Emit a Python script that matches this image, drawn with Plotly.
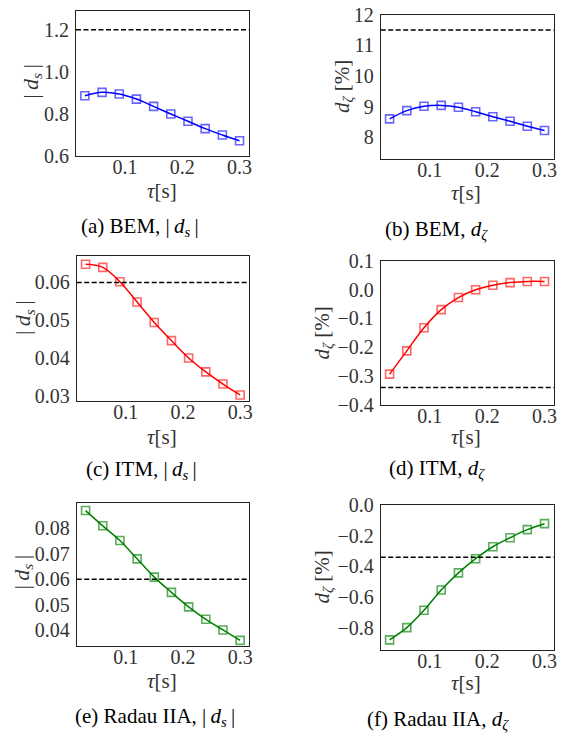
import plotly.graph_objects as go

W, H = 569, 734

tau = [0.03, 0.06, 0.09, 0.12, 0.15, 0.18, 0.21, 0.24, 0.27, 0.30]

bem_ds = [0.886, 0.902, 0.894, 0.870, 0.835, 0.799, 0.764, 0.729, 0.699, 0.671]
bem_dz = [8.60, 8.87, 9.01, 9.04, 8.98, 8.83, 8.67, 8.52, 8.36, 8.22]
itm_ds = [0.0648, 0.0640, 0.0602, 0.0548, 0.0494, 0.0446, 0.0400, 0.0363, 0.0331, 0.0302]
itm_dz = [-0.294, -0.213, -0.133, -0.070, -0.028, -0.001, 0.015, 0.024, 0.028, 0.028]
rad_ds = [0.0870, 0.0810, 0.0752, 0.0680, 0.0608, 0.0548, 0.0491, 0.0442, 0.0400, 0.0359]
rad_dz = [-0.880, -0.800, -0.686, -0.554, -0.442, -0.349, -0.271, -0.212, -0.159, -0.120]

thresholds = [1.2, 11.5, 0.06, -0.34, 0.06, -0.34]

x_ticks = [0.1, 0.2, 0.3]
y_ticks = [
    [0.6, 0.8, 1.0, 1.2],
    [8, 9, 10, 11, 12],
    [0.03, 0.04, 0.05, 0.06],
    [-0.4, -0.3, -0.2, -0.1, 0.0, 0.1],
    [0.04, 0.05, 0.06, 0.07, 0.08],
    [-0.8, -0.6, -0.4, -0.2, 0.0],
]
y_formats = [".1f", "d", ".2f", ".1f", ".2f", ".1f"]
y_ranges = [[0.6, 1.29], [7.28, 12.0], [0.0286, 0.067], [-0.4, 0.1], [0.0338, 0.0901], [-0.946, 0.0]]
x_range = [0.0145, 0.316]

series = [bem_ds, bem_dz, itm_ds, itm_dz, rad_ds, rad_dz]
colors = ["#0000ff", "#0000ff", "#ff0000", "#ff0000", "#008000", "#008000"]
mcolors = ["rgba(0,0,255,0.6)", "rgba(0,0,255,0.6)", "rgba(255,0,0,0.6)", "rgba(255,0,0,0.6)",
           "rgba(0,128,0,0.65)", "rgba(0,128,0,0.65)"]

TS = "\u2009"
ds_label = "|" + TS + "<i>d</i><sub><i>s</i></sub>" + TS + "|"
dz_label = "<i>d</i><sub><i>ζ</i></sub> [%]"
ylabels = [ds_label, dz_label, ds_label, dz_label, ds_label, dz_label]
ylabel_sizes = [22, 21, 22, 21, 22, 21]
xlabel = "<i>τ</i>[s]"
captions = [
    "(a) BEM, " + ds_label,
    "(b) BEM, <i>d</i><sub><i>ζ</i></sub>",
    "(c) ITM, " + ds_label,
    "(d) ITM, <i>d</i><sub><i>ζ</i></sub>",
    "(e) Radau IIA, " + ds_label,
    "(f) Radau IIA, <i>d</i><sub><i>ζ</i></sub>",
]

boxes = [
    (76.0, 248.7, 11.0, 155.7),
    (380.7, 553.7, 14.7, 159.3),
    (76.7, 249.3, 256.0, 401.0),
    (380.7, 553.7, 260.7, 404.7),
    (76.7, 249.3, 502.7, 645.7),
    (380.7, 553.7, 505.3, 650.0),
]
ylabel_pos = [(31.7, 81), (343, 87), (24, 318), (322.5, 333), (22.5, 572), (322.5, 577)]
xlabel_pos = [(162, 191), (465.7, 193), (162, 437), (465.7, 437), (162, 681), (465.7, 683)]
caption_pos = [(140, 227), (436, 230), (141, 470), (437, 469), (155, 717), (438, 720)]

FONT = "Liberation Serif"
fig = go.Figure()
layout = dict(width=W, height=H, margin=dict(l=0, r=0, t=0, b=0, autoexpand=False),
              paper_bgcolor="white", plot_bgcolor="white", showlegend=False,
              font=dict(family=FONT, size=20, color="#222"))
annotations = []
shapes = []

for i in range(6):
    k = "" if i == 0 else str(i + 1)
    xa, ya = "x" + k, "y" + k
    l, r, t, b = boxes[i]
    layout["xaxis" + k] = dict(domain=[l / W, r / W], anchor=ya, range=x_range, automargin=False,
                               tickvals=x_ticks, tickformat=".1f", showgrid=False, zeroline=False,
                               showline=True, mirror=True, linecolor="#222", linewidth=1,
                               ticks="", ticklabelstandoff=-7,
                               tickfont=dict(family=FONT, size=20, color="#333"))
    layout["yaxis" + k] = dict(domain=[1 - b / H, 1 - t / H], anchor=xa, range=y_ranges[i],
                               automargin=False, ticklabelstandoff=2,
                               tickvals=y_ticks[i], tickformat=y_formats[i], showgrid=False,
                               zeroline=False, showline=True, mirror=True, linecolor="#222",
                               linewidth=1, ticks="",
                               tickfont=dict(family=FONT, size=20, color="#333"))
    fig.add_trace(go.Scatter(x=tau, y=series[i], xaxis=xa, yaxis=ya, mode="lines",
                             line=dict(color=colors[i], width=1.5, shape="spline", smoothing=1.0),
                             hoverinfo="skip"))
    fig.add_trace(go.Scatter(x=tau, y=series[i], xaxis=xa, yaxis=ya, mode="markers",
                             marker=dict(symbol="square-open", size=8, color=mcolors[i],
                                         line=dict(color=mcolors[i], width=1.6))))
    shapes.append(dict(type="line", xref=xa + " domain", yref=ya, x0=0, x1=1,
                       y0=thresholds[i], y1=thresholds[i],
                       line=dict(color="black", width=1.5, dash="5px,2.5px")))
    px, py = ylabel_pos[i]
    annotations.append(dict(text=ylabels[i], x=px / W, y=1 - py / H, xref="paper", yref="paper",
                            xanchor="center", yanchor="middle", textangle=-90, showarrow=False,
                            font=dict(family=FONT, size=ylabel_sizes[i], color="#333")))
    px, py = xlabel_pos[i]
    annotations.append(dict(text=xlabel, x=px / W, y=1 - py / H, xref="paper", yref="paper",
                            xanchor="center", yanchor="middle", showarrow=False,
                            font=dict(family=FONT, size=21, color="#333")))
    px, py = caption_pos[i]
    annotations.append(dict(text=captions[i], x=px / W, y=1 - py / H, xref="paper", yref="paper",
                            xanchor="center", yanchor="middle", showarrow=False,
                            font=dict(family=FONT, size=21, color="black")))

layout["annotations"] = annotations
layout["shapes"] = shapes
fig.update_layout(**layout)
fig.write_html("out.html")
